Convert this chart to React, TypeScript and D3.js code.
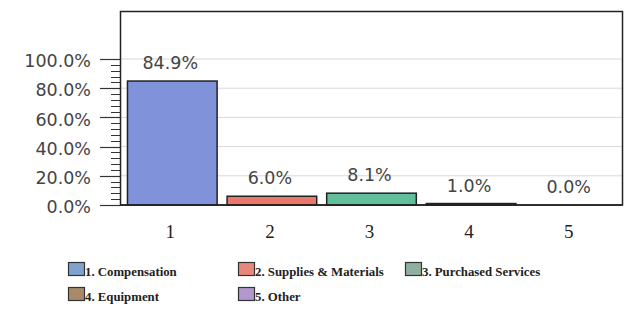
import React from 'react'
import * as d3 from 'd3'

const categories = ['1', '2', '3', '4', '5']
const values = [84.9, 6.0, 8.1, 1.0, 0.0]
const seriesNames = ['1. Compensation', '2. Supplies & Materials', '3. Purchased Services', '4. Equipment', '5. Other']
const barColors = ['#8092da', '#e9776b', '#62bf9c', '#8a6a4a', '#b497cc']
const legendColors = ['#7fa2d0', '#e8887c', '#8fb0a0', '#a88a6a', '#b497cc']
const majorTicks = [0, 20, 40, 60, 80, 100]
const minorTicks = d3.range(0, 101, 4)

export default function App() {
  const W = 628, H = 313
  const left = 120.5, right = 622.5, top = 11.5, bottom = 205

  const x = d3.scaleBand().domain(categories).range([left, right]).paddingInner(0.1).paddingOuter(0.07)
  const y = d3.scaleLinear().domain([0, 100]).range([bottom, 59])
  const fmt = (v: number) => v.toFixed(1) + '%'

  const legendPos = [[68, 262], [238, 262], [405, 262], [68, 287], [238, 287]]

  return (
    <svg width={W} height={H} style={{ position: 'absolute', left: 0, top: 0, background: '#fff' }}>
      {/* grid */}
      {majorTicks.filter(t => t > 0).map(t => (
        <line key={'g' + t} x1={left} x2={right} y1={y(t)} y2={y(t)} stroke="#d8d8d8" strokeWidth={1} />
      ))}
      {/* frame */}
      <rect x={left} y={top} width={right - left} height={bottom - top} fill="none" stroke="#222" strokeWidth={1.5} />
      {/* y ticks */}
      {minorTicks.map(t => (
        <line key={'m' + t} x1={111} x2={left} y1={Math.round(y(t)) + 0.5} y2={Math.round(y(t)) + 0.5} stroke="#333" strokeWidth={1} />
      ))}
      {majorTicks.map(t => (
        <g key={'t' + t}>
          <line x1={100} x2={left} y1={Math.round(y(t)) + 0.5} y2={Math.round(y(t)) + 0.5} stroke="#333" strokeWidth={1.2} />
          <text x={91} y={y(t) + 2} dy="0.35em" textAnchor="end" fontFamily="DejaVu Sans" fontSize={17.5} fill="#444">{fmt(t)}</text>
        </g>
      ))}
      {/* bars */}
      {values.map((v, i) => (
        <g key={'b' + i}>
          {v > 0 && (
            <rect x={x(categories[i])} y={y(v)} width={x.bandwidth()} height={bottom - y(v)}
              fill={barColors[i]} stroke="#222" strokeWidth={1.5} />
          )}
          <text x={x(categories[i])! + x.bandwidth() / 2 - 2} y={y(v) - 12} textAnchor="middle"
            fontFamily="DejaVu Sans" fontSize={17.5} fill="#444">{fmt(v)}</text>
          <text x={x(categories[i])! + x.bandwidth() / 2 - 2} y={238} textAnchor="middle"
            fontFamily="Liberation Serif" fontSize={19} fill="#222">{categories[i]}</text>
        </g>
      ))}
      <line x1={left} x2={right} y1={bottom} y2={bottom} stroke="#222" strokeWidth={1.5} />
      {/* legend */}
      {seriesNames.map((name, i) => (
        <g key={'l' + i} transform={`translate(${legendPos[i][0]},${legendPos[i][1]})`}>
          <rect x={0.5} y={0.5} width={16} height={13} fill={legendColors[i]} stroke="#333" strokeWidth={1.2} />
          <text x={17} y={13.5} fontFamily="Liberation Serif" fontWeight="bold" fontSize={12.8} fill="#222">{name}</text>
        </g>
      ))}
    </svg>
  )
}
